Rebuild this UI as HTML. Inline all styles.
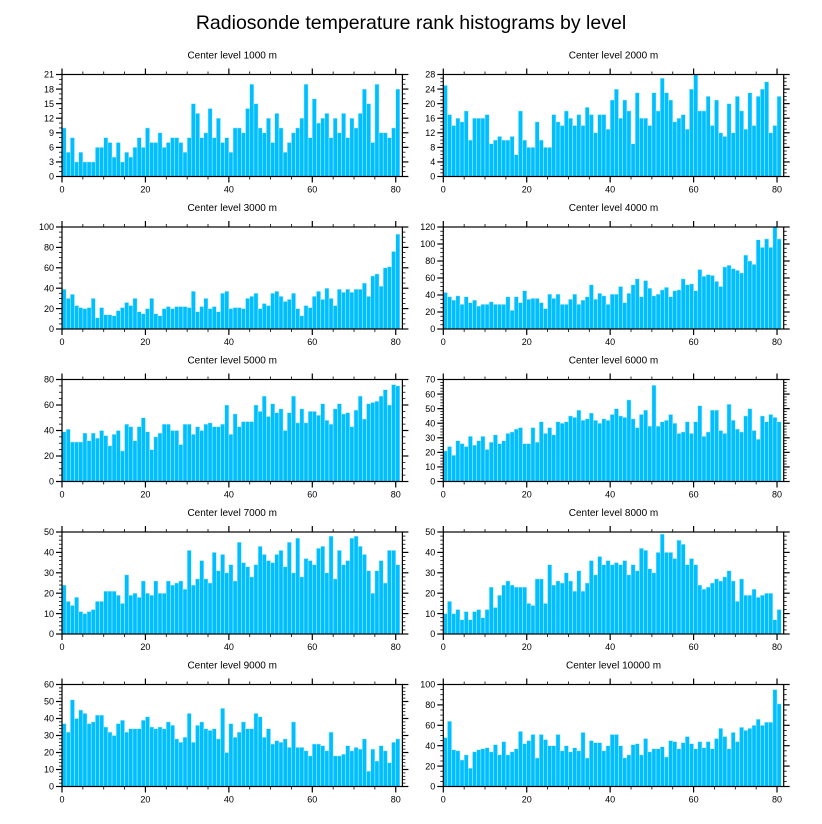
<!DOCTYPE html>
<html><head><meta charset="utf-8"><style>
html,body{margin:0;padding:0;background:#fff;}
svg{display:block;font-family:"Liberation Sans",Arial,sans-serif;}
</style></head><body>
<svg id="chart" width="822" height="824" viewBox="0 0 822 824">
<text x="411" y="29" text-anchor="middle" font-size="19.5" fill="#000">Radiosonde temperature rank histograms by level</text>
</svg>
<script>
const levels = [1000,2000,3000,4000,5000,6000,7000,8000,9000,10000];
const counts1000 = [10,5,8,3,5,3,3,3,6,6,8,7,4,7,3,5,4,6,8,6,10,7,7,9,6,7,8,8,7,5,8,15,13,8,9,14,8,12,7,8,5,10,10,9,14,19,15,10,9,12,7,13,10,5,7,9,10,12,19,8,16,11,12,13,8,12,9,13,8,12,10,13,18,15,7,19,9,9,8,10,18];
const counts2000 = [25,17,14,16,15,18,10,16,16,16,17,9,10,11,10,10,11,6,18,10,8,8,15,10,8,8,17,15,14,18,16,14,17,14,19,17,12,17,17,13,21,24,16,21,18,9,23,16,16,14,23,18,27,23,21,15,16,17,13,24,28,18,18,22,14,21,12,11,20,12,22,18,13,23,14,22,24,26,12,14,22];
const counts3000 = [39,30,34,23,21,20,21,30,11,21,14,14,13,18,21,26,23,30,17,15,20,30,15,13,20,22,20,22,22,22,21,37,17,22,30,20,22,17,35,37,20,21,21,20,30,32,35,20,25,23,35,37,32,27,29,35,20,13,23,21,32,37,29,40,30,23,39,36,39,36,39,39,45,32,52,54,42,60,61,76,93];
const counts4000 = [43,38,34,39,29,38,31,34,27,29,29,32,29,29,29,38,22,38,31,45,35,36,36,31,24,41,36,41,29,29,35,41,29,34,38,52,35,42,39,29,41,41,50,31,42,52,59,38,57,48,39,41,46,49,38,45,46,59,52,53,45,70,62,64,63,56,50,73,75,71,69,66,87,80,76,105,96,106,96,120,106];
const counts5000 = [39,41,31,31,31,38,32,38,34,40,36,28,37,40,24,45,43,32,43,50,39,25,35,38,45,45,40,40,29,45,45,37,43,40,45,46,43,43,45,60,37,53,43,47,47,47,60,55,67,51,61,54,57,40,54,67,46,57,46,55,55,52,61,48,45,57,61,53,54,43,56,67,49,61,62,63,67,72,60,76,75];
const counts6000 = [21,24,18,28,26,24,31,25,28,31,22,27,32,26,28,33,34,36,37,26,26,37,27,41,33,37,32,41,40,41,45,44,49,42,43,47,42,40,43,42,46,50,45,44,56,43,37,46,49,38,66,38,41,42,46,40,33,34,41,33,41,52,31,34,49,49,35,33,53,42,36,34,45,50,35,29,45,41,46,44,41];
const counts7000 = [24,16,14,18,11,10,11,12,16,16,21,21,21,19,15,29,19,20,18,26,20,19,26,20,20,26,24,25,26,22,41,24,27,36,27,25,40,31,39,30,34,26,45,35,33,28,34,43,39,36,35,39,41,33,45,30,47,28,37,36,34,42,43,30,48,27,41,34,36,47,48,43,39,31,20,31,36,25,41,41,34];
const counts8000 = [10,16,10,12,7,11,7,11,12,8,12,23,13,19,24,26,24,23,23,23,15,14,27,27,15,34,24,26,25,30,26,21,31,21,25,36,29,38,34,36,34,35,34,36,29,34,31,42,41,32,30,40,49,40,40,37,46,44,34,37,34,24,22,23,25,27,26,28,31,26,16,27,19,19,22,18,19,20,20,7,12];
const counts9000 = [37,32,51,40,45,43,37,38,42,42,35,32,30,37,39,32,34,34,34,39,41,35,34,35,34,38,36,28,26,29,43,26,36,38,34,33,34,28,46,20,37,29,32,38,34,34,43,41,29,34,25,27,26,28,23,38,23,23,21,18,25,25,24,21,32,18,18,19,24,21,23,22,28,9,22,15,24,21,14,26,28];
const counts10000 = [48,64,36,35,26,31,18,34,36,37,38,34,41,31,44,31,34,37,54,42,45,51,28,51,46,40,40,51,35,40,34,38,35,53,28,45,43,43,35,40,51,51,40,28,31,41,42,31,47,34,37,37,39,29,45,44,37,43,49,42,37,44,38,44,37,47,57,49,37,53,44,58,55,57,60,66,60,63,63,95,81];
const yMaxes = [21,28,100,120,80,70,50,50,60,100];
const yMajorSteps = [3,4,20,20,20,10,10,10,10,20];
const xTickLabels = [0,20,40,60,80];

const allCounts = [counts1000,counts2000,counts3000,counts4000,counts5000,counts6000,counts7000,counts8000,counts9000,counts10000];
const NS = "http://www.w3.org/2000/svg";
const svg = document.getElementById("chart");
const XMAX = 81.6;
const colLeft = [62, 443.3], plotW = 340.4, plotH = 102, rowTop0 = 74.5, rowGap = 152.5;

function mk(tag, attrs, parent) {
  const e = document.createElementNS(NS, tag);
  for (const k in attrs) e.setAttribute(k, attrs[k]);
  parent.appendChild(e);
  return e;
}

allCounts.forEach((vals, p) => {
  const col = p % 2, row = Math.floor(p / 2);
  const x0 = colLeft[col], y0 = rowTop0 + row * rowGap;
  const yMax = yMaxes[p], step = yMajorSteps[p];
  const xs = v => x0 + v / XMAX * plotW;
  const ys = v => y0 + plotH - v / yMax * plotH;
  const g = mk("g", {}, svg);
  
  

  const t = mk("text", {x: x0 + plotW / 2, y: y0 - 16, "text-anchor": "middle", "font-size": "10"}, g);
  t.textContent = "Center level " + levels[p] + " m";
  
  

  vals.forEach((v, i) => {
    const r = mk("rect", {x: xs(i), y: ys(v), width: xs(i + 1) - xs(i), height: ys(0) - ys(v), fill: "#00bfff", stroke: "#bfefff", "stroke-width": "0.5"}, g);
    
    
  });

  const frame = mk("rect", {x: x0, y: y0, width: plotW, height: plotH, fill: "none", stroke: "#000", "stroke-width": "1.2"}, g);
  
  

  // x ticks
  for (let v = 0; v <= 80; v += 5) {
    const major = v % 20 === 0, len = major ? 6 : 3;
    const X = xs(v);
    const tb = mk("line", {x1: X, x2: X, y1: y0 + plotH, y2: y0 + plotH + len, stroke: "#000", "stroke-width": major ? 1.2 : 0.8}, g);
    
    
    const tt = mk("line", {x1: X, x2: X, y1: y0, y2: y0 - len, stroke: "#000", "stroke-width": major ? 1.2 : 0.8}, g);
    
    
  }
  xTickLabels.forEach(v => {
    const l = mk("text", {x: xs(v), y: y0 + plotH + 16, "text-anchor": "middle", "font-size": "9"}, g);
    l.textContent = v;
    
    
  });

  // y ticks
  const minor = step % 4 === 0 ? step / 4 : (step % 5 === 0 ? step / 5 : step / 3);
  for (let v = 0; v <= yMax + 1e-9; v += minor) {
    const isMajor = Math.abs(v / step - Math.round(v / step)) < 1e-6, len = isMajor ? 6 : 3;
    const Y = ys(v);
    const tl = mk("line", {x1: x0, x2: x0 - len, y1: Y, y2: Y, stroke: "#000", "stroke-width": isMajor ? 1.2 : 0.8}, g);
    
    
    const tr = mk("line", {x1: x0 + plotW, x2: x0 + plotW + len, y1: Y, y2: Y, stroke: "#000", "stroke-width": isMajor ? 1.2 : 0.8}, g);
    
    
    if (isMajor) {
      const yl = mk("text", {x: x0 - 8, y: Y + 3.2, "text-anchor": "end", "font-size": "9"}, g);
      yl.textContent = Math.round(v);
      
      
    }
  }
});
</script>
</body></html>
